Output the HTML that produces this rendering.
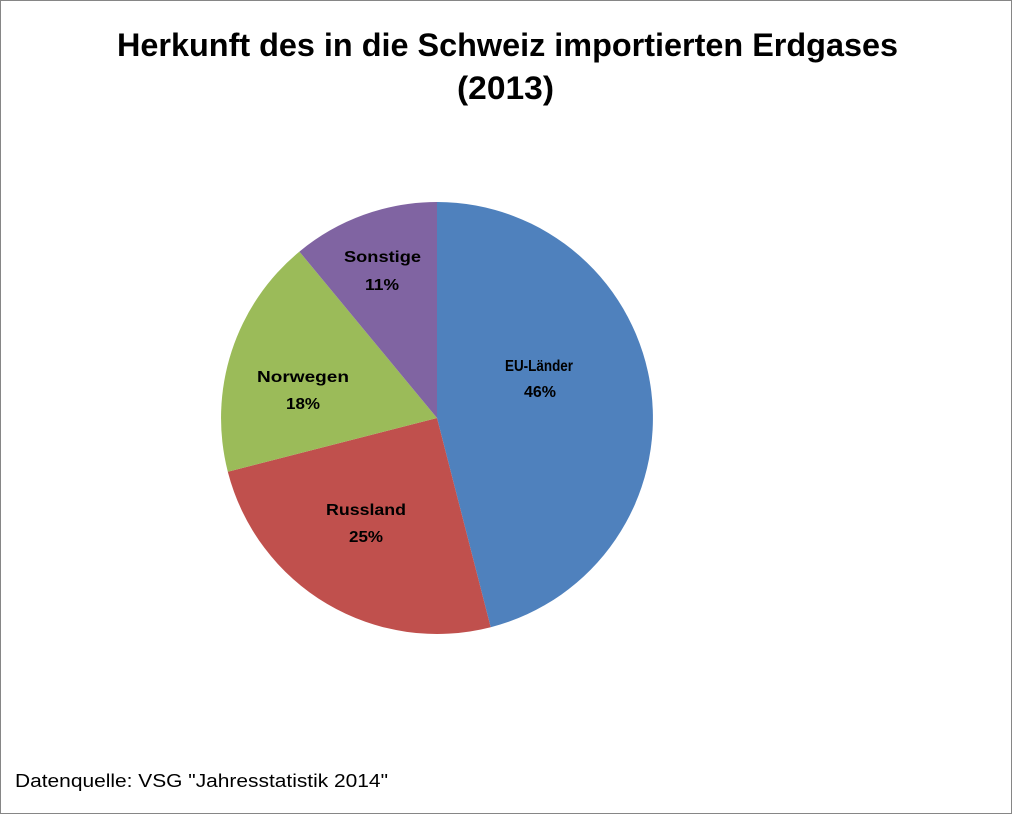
<!DOCTYPE html>
<html><head><meta charset="utf-8"><style>
html,body{margin:0;padding:0;background:#fff;}
body{width:1012px;height:814px;overflow:hidden;}
</style></head><body>
<svg width="1012" height="814" xmlns="http://www.w3.org/2000/svg" style="font-family:'Liberation Sans',sans-serif">
<rect x="0.5" y="0.5" width="1011" height="813" fill="#fff" stroke="#868686"/>
<text x="117" y="56" font-size="32" font-weight="bold" fill="#000" textLength="781" lengthAdjust="spacingAndGlyphs">Herkunft des in die Schweiz importierten Erdgases</text>
<text x="457" y="99" font-size="32" font-weight="bold" fill="#000" textLength="97" lengthAdjust="spacingAndGlyphs">(2013)</text>
<path d="M437,418 L437,202 A216,216 0 0 1 490.7,627.2 Z" fill="#4F81BD"/>
<path d="M437,418 L490.7,627.2 A216,216 0 0 1 227.8,471.7 Z" fill="#C0504D"/>
<path d="M437,418 L227.8,471.7 A216,216 0 0 1 299.4,251.6 Z" fill="#9BBB59"/>
<path d="M437,418 L299.4,251.6 A216,216 0 0 1 437,202 Z" fill="#8064A2"/>
<g font-size="16" font-weight="bold" fill="#000">
<text x="505" y="371" textLength="68" lengthAdjust="spacingAndGlyphs">EU-Länder</text><text x="524" y="397" textLength="32" lengthAdjust="spacingAndGlyphs">46%</text>
<text x="326" y="515" textLength="80" lengthAdjust="spacingAndGlyphs">Russland</text><text x="349" y="542" textLength="34" lengthAdjust="spacingAndGlyphs">25%</text>
<text x="257" y="382" textLength="92" lengthAdjust="spacingAndGlyphs">Norwegen</text><text x="286" y="409" textLength="34" lengthAdjust="spacingAndGlyphs">18%</text>
<text x="344" y="262" textLength="77" lengthAdjust="spacingAndGlyphs">Sonstige</text><text x="365" y="290" textLength="34" lengthAdjust="spacingAndGlyphs">11%</text>
</g>
<text x="15" y="787" font-size="18" fill="#000" textLength="373" lengthAdjust="spacingAndGlyphs">Datenquelle: VSG "Jahresstatistik 2014"</text>
</svg>
</body></html>
